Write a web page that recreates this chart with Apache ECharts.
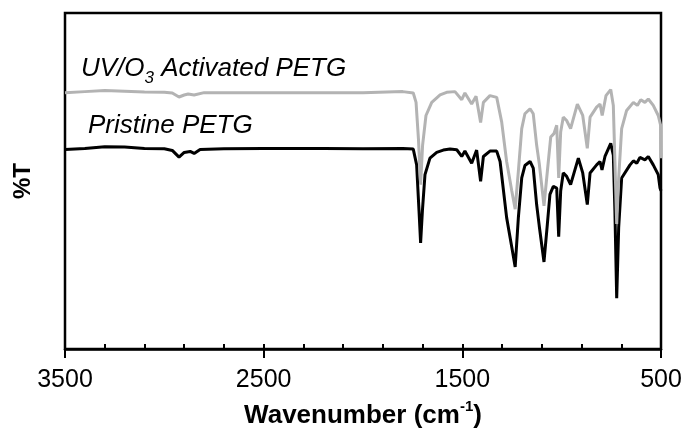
<!DOCTYPE html>
<html>
<head>
<meta charset="utf-8">
<script src="https://cdn.jsdelivr.net/npm/echarts@6/dist/echarts.min.js"></script>
<style>html,body{margin:0;padding:0;background:#fff;}#c{width:685px;height:434px;}</style>
</head>
<body>
<div id="c"></div>
<script>
// Wavenumber (cm-1) and %T (arbitrary, offset) values
const pristineWavenumber = [3500,3400,3300,3200,3100,3000,2960,2926,2900,2870,2850,2820,2700,2500,2200,2000,1800,1747,1730,1718,1710,1701,1688,1663,1629,1596,1562,1528,1503,1487,1453,1428,1408,1394,1361,1327,1310,1277,1251,1234,1218,1201,1185,1159,1143,1126,1113,1089,1072,1059,1042,1025,1015,1005,992,975,955,916,894,871,857,824,807,797,782,753,740,732,723,713,698,656,639,622,606,581,564,539,514,505,500];
const pristineT = [59.4,59.7,60.2,60.1,59.7,59.6,59.1,57.1,58.5,58.8,58.2,59.4,59.6,59.7,59.7,59.6,59.7,59.5,54.8,41.1,31.6,41.1,51.9,56.8,58.5,59.2,59.5,59.3,57.3,58.9,55.3,59.2,49.9,57.3,58.9,58.9,55.8,39.1,30.3,24.4,39.1,50.9,54.6,55.8,53.8,43.0,36.7,25.9,37.2,46.0,48.4,47.9,33.4,47.0,52.4,51.4,48.9,56.8,52.4,43.0,52.4,54.8,55.8,53.3,57.3,61.2,57.7,41.1,15.1,36.2,50.9,54.8,56.0,55.3,57.0,56.3,57.3,54.8,51.9,47.9,47.1];

const activatedWavenumber = [3500,3400,3300,3200,3100,3000,2960,2926,2900,2880,2850,2800,2500,2000,1800,1747,1733,1721,1710,1700,1683,1654,1612,1579,1537,1503,1487,1453,1431,1408,1394,1361,1327,1302,1277,1251,1234,1218,1201,1185,1159,1143,1126,1113,1089,1072,1055,1039,1025,1015,1005,992,975,955,921,894,871,857,824,807,796,777,753,740,732,723,713,698,673,639,619,602,581,564,539,514,502,500];
const activatedT = [76.3,76.6,76.9,76.7,76.5,76.4,76.2,75.0,75.6,75.9,75.6,76.3,76.3,76.3,76.6,76.2,73.4,62.6,48.9,60.7,69.5,73.4,75.6,76.4,76.6,74.2,76.2,72.9,75.2,67.4,73.4,75.4,74.9,67.6,55.8,47.0,41.6,52.9,65.6,70.0,71.5,70.0,60.7,55.3,42.6,52.9,63.1,64.1,66.6,50.9,64.6,69.0,68.0,65.6,72.9,69.5,59.7,69.0,72.0,72.9,69.5,75.4,77.2,72.5,55.8,37.2,50.9,65.6,71.0,73.4,72.5,74.2,73.4,74.4,72.5,69.5,66.6,56.8];

const xTicks = [500,1500,2500,3500];
const seriesNames = ['Pristine PETG','UV/O3 Activated PETG'];

const pair = (xs, ys) => xs.map((x, i) => [x, ys[i]]);
const FONT = '"Liberation Sans", Arial, Helvetica, sans-serif';

const chart = echarts.init(document.getElementById('c'), null, {renderer: 'canvas'});
chart.setOption({
  animation: false,
  backgroundColor: '#fff',
  grid: {left: 65, right: 24, top: 13, bottom: 81, show: true, borderColor: '#000', borderWidth: 2.5, backgroundColor: 'transparent'},
  xAxis: [{
    type: 'value', min: xTicks[0], max: xTicks[xTicks.length-1], interval: 1000, inverse: true,
    axisLine: {show: true, lineStyle: {color: '#000', width: 2.5}},
    axisTick: {show: true, inside: false, length: 9, lineStyle: {color: '#000', width: 2}},
    axisLabel: {color: '#000', fontSize: 25, fontFamily: FONT, margin: 19, formatter: v => String(v)},
    splitLine: {show: false},
    name: '{b|Wavenumber (cm}{s|-1}{b|)}',
    nameLocation: 'middle', nameGap: 50,
    nameTextStyle: {rich: {
      b: {fontSize: 26, fontWeight: 'bold', fontFamily: FONT, color: '#000', lineHeight: 30, verticalAlign: 'bottom'},
      s: {fontSize: 15, fontWeight: 'bold', fontFamily: FONT, color: '#000', lineHeight: 30, verticalAlign: 'top', padding: [0,0,10,0]}
    }}
  }, {
    type: 'value', min: xTicks[0], max: xTicks[xTicks.length-1], interval: 200, inverse: true, position: 'bottom',
    axisLine: {show: false},
    axisTick: {show: true, inside: true, length: 5, lineStyle: {color: '#000', width: 2}},
    axisLabel: {show: false}, splitLine: {show: false}
  }],
  yAxis: {
    type: 'value', min: 0, max: 100,
    axisLine: {show: false}, axisTick: {show: false}, axisLabel: {show: false}, splitLine: {show: false},
    name: '%T', nameLocation: 'middle', nameGap: 30, nameRotate: 90,
    nameTextStyle: {fontSize: 24, fontWeight: 'bold', fontFamily: FONT, color: '#000'}
  },
  series: [{
    name: seriesNames[0], type: 'line', xAxisIndex: 0, data: pair(pristineWavenumber, pristineT),
    showSymbol: false, smooth: false, lineStyle: {color: '#000', width: 3}, z: 2
  }, {
    name: seriesNames[1], type: 'line', xAxisIndex: 0, data: pair(activatedWavenumber, activatedT),
    showSymbol: false, smooth: false, lineStyle: {color: '#b3b3b3', width: 3}, z: 3
  }],
  graphic: [{
    type: 'text', left: 81, top: 56,
    style: {
      text: '{n|UV/O}{sub|3}{n| Activated PETG}',
      rich: {
        n: {fontSize: 26, fontStyle: 'italic', fontFamily: FONT, fill: '#000', lineHeight: 30, verticalAlign: 'bottom'},
        sub: {fontSize: 17, fontStyle: 'italic', fontFamily: FONT, fill: '#000', lineHeight: 22, verticalAlign: 'bottom', padding: [0,0,-5,0]}
      }
    }
  }, {
    type: 'text', left: 88, top: 113,
    style: {text: seriesNames[0], font: 'italic 26px ' + FONT, fill: '#000'}
  }]
});
</script>
</body>
</html>
